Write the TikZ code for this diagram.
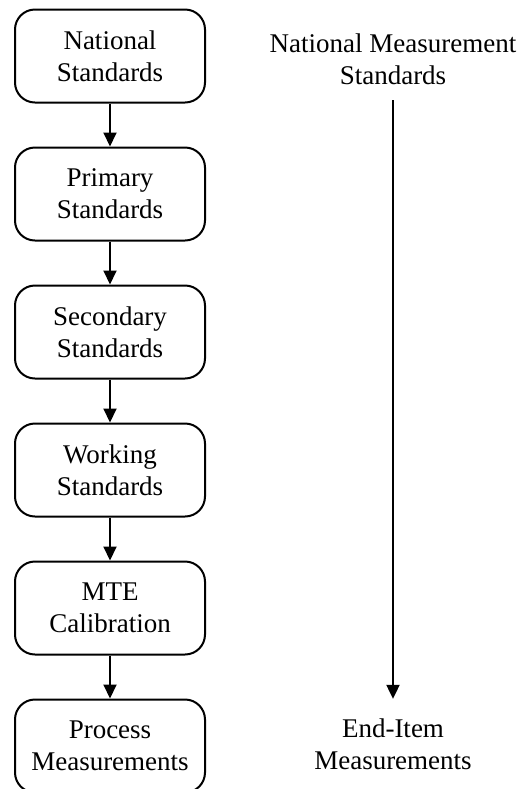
\documentclass[tikz,border=0pt]{standalone}
\usepackage{fontspec}
\setmainfont{Liberation Serif}
\usetikzlibrary{arrows.meta}

\begin{document}
\begin{tikzpicture}[x=0.5pt,y=-0.5pt,->,>={Triangle[length=7pt,width=6.5pt]},line width=1pt,node distance=69pt,
    std node/.style={rectangle,draw,rounded corners=10pt,minimum width=95pt,minimum height=46.5pt,align=center,font=\fontsize{13.5}{16}\selectfont},
    side node/.style={align=center,font=\fontsize{13.5}{16}\selectfont}]

    \useasboundingbox (0,0) rectangle (522,789);

    \node[std node] (1) at (110,56) {National\\Standards};
    \node[std node] (2) [below of=1] {Primary\\Standards};
    \node[std node] (3) [below of=2] {Secondary\\Standards};
    \node[std node] (4) [below of=3] {Working\\Standards};
    \node[std node] (5) [below of=4] {MTE\\Calibration};
    \node[std node] (6) [below of=5] {Process\\Measurements};

    \node[side node] (7) at (393,59) {National Measurement\\Standards};
    \node[side node] (8) at (393,744) {End-Item\\Measurements};

    \path
        (1) edge (2)
        (2) edge (3)
        (3) edge (4)
        (4) edge (5)
        (5) edge (6)
        (7) edge[shorten <=4pt,shorten >=6pt] (8)
        ;
\end{tikzpicture}
\end{document}
